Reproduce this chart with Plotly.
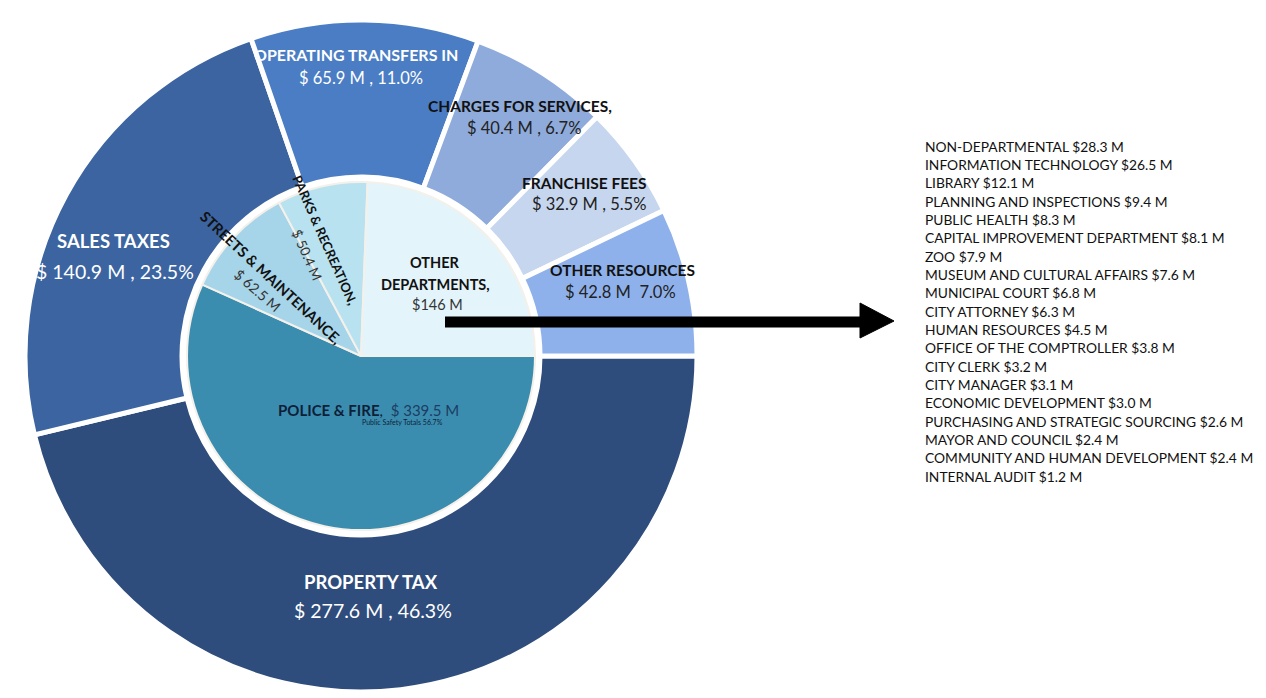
import plotly.graph_objects as go

W, H = 1266, 698

# ---- data ----
rev_labels = ["PROPERTY TAX", "SALES TAXES", "OPERATING TRANSFERS IN",
              "CHARGES FOR SERVICES,", "FRANCHISE FEES", "OTHER RESOURCES"]
rev_values = [277.6, 140.9, 65.9, 40.4, 32.9, 42.8]
rev_text = ["$ 277.6 M , 46.3%", "$ 140.9 M , 23.5%", "$ 65.9 M , 11.0%",
            "$ 40.4 M , 6.7%", "$ 32.9 M , 5.5%", "$ 42.8 M  7.0%"]
rev_colors = ["#2F4D7C", "#3B64A0", "#4A7DC3", "#8FABDB", "#C6D6EE", "#8EB1EB"]

exp_labels = ["POLICE & FIRE", "STREETS & MAINTENANCE", "PARKS & RECREATION",
              "OTHER DEPARTMENTS"]
exp_values = [339.5, 62.5, 50.4, 146.0]
exp_colors = ["#3B8DB0", "#A6D4E9", "#B9E2F0", "#E4F4FB"]

other_depts = ["NON-DEPARTMENTAL", "INFORMATION TECHNOLOGY", "LIBRARY",
               "PLANNING AND INSPECTIONS", "PUBLIC HEALTH",
               "CAPITAL IMPROVEMENT DEPARTMENT", "ZOO",
               "MUSEUM AND CULTURAL AFFAIRS", "MUNICIPAL COURT", "CITY ATTORNEY",
               "HUMAN RESOURCES", "OFFICE OF THE COMPTROLLER", "CITY CLERK",
               "CITY MANAGER", "ECONOMIC DEVELOPMENT",
               "PURCHASING AND STRATEGIC SOURCING", "MAYOR AND COUNCIL",
               "COMMUNITY AND HUMAN DEVELOPMENT", "INTERNAL AUDIT"]
other_values = ["$28.3 M", "$26.5 M", "$12.1 M", "$9.4 M", "$8.3 M", "$8.1 M",
                "$7.9 M", "$7.6 M", "$6.8 M", "$6.3 M", "$4.5 M", "$3.8 M",
                "$3.2 M", "$3.1 M", "$3.0 M", "$2.6 M", "$2.4 M", "$2.4 M",
                "$1.2 M"]

FONT = "Lato"

def px(x):
    return x / W

def py(y):
    return 1 - y / H

cx, cy = 361, 356
R_out, R_in = 336, 174

fig = go.Figure()
fig.add_trace(go.Pie(
    labels=rev_labels, values=rev_values, sort=False, direction="clockwise",
    rotation=90, hole=179 / R_out, textinfo="none", hoverinfo="label+value",
    marker=dict(colors=rev_colors, line=dict(color="white", width=5)),
    domain=dict(x=[px(cx - R_out), px(cx + R_out)], y=[py(cy + R_out), py(cy - R_out)]),
    showlegend=False,
))
fig.add_trace(go.Pie(
    labels=exp_labels, values=exp_values, sort=False, direction="clockwise",
    rotation=90, textinfo="none", hoverinfo="label+value",
    marker=dict(colors=exp_colors, line=dict(color="#F4F0EA", width=2)),
    domain=dict(x=[px(cx - R_in), px(cx + R_in)], y=[py(cy + R_in), py(cy - R_in)]),
    showlegend=False,
))

ann = []
def T(x, y, text, size, color, bold=False, angle=0, xanchor="center", family=FONT):
    t = f"<b>{text}</b>" if bold else text
    ann.append(dict(x=px(x), y=py(y), xref="paper", yref="paper", text=t,
                    showarrow=False, textangle=angle, xanchor=xanchor,
                    yanchor="middle",
                    font=dict(family=family, size=size, color=color)))

# outer labels
T(356, 55, rev_labels[2], 16, "white", True)
T(361, 78, rev_text[2], 16.5, "white")
T(520, 106, rev_labels[3], 15.5, "#111111", True)
T(524, 128, rev_text[3], 16.5, "#222222")
T(584, 183, rev_labels[4], 15.5, "#111111", True)
T(589, 204, rev_text[4], 16.5, "#222222")
T(622, 270, rev_labels[5], 15.5, "#111111", True)
T(620, 292, rev_text[5], 16.5, "#222222")
T(113, 241, rev_labels[1], 18.5, "white", True)
T(115, 271, rev_text[1], 19.5, "white")
T(371, 582, rev_labels[0], 18.5, "white", True)
T(373, 610, rev_text[0], 19.5, "white")

# inner labels
T(435, 262, "OTHER", 14.5, "#111111", True)
T(435, 284, "DEPARTMENTS,", 14.5, "#111111", True)
T(437, 304, "$146 M", 14.5, "#333333")
T(368, 410, "<b>POLICE &amp; FIRE</b>,  <span style='color:#1B3D63'>$ 339.5 M</span>",
  15, "#0E1F38")
T(402, 422, "Public Safety Totals 56.7%", 7, "#0E1F38")
T(325, 240, "PARKS &amp; RECREATION,", 13, "#111111", True, 66)
T(307, 255, "$ 50.4 M", 13.5, "#333333", False, 66)
T(271, 277, "STREETS &amp; MAINTENANCE,", 14.5, "#111111", True, 43)
T(258, 290, "$ 62.5 M", 14, "#333333", False, 41)

# department list
for i, (n, v) in enumerate(zip(other_depts, other_values)):
    T(923, 146 + i * 18.35, f"{n} {v}", 13.8, "#111111", False, 0, "left")

shapes = [
    dict(type="line", xref="paper", yref="paper", x0=px(445), y0=py(322),
         x1=px(864), y1=py(322), line=dict(color="black", width=11)),
    dict(type="path", xref="paper", yref="paper", fillcolor="black",
         line=dict(color="black", width=1),
         path=f"M {px(860)} {py(303)} L {px(894)} {py(321)} L {px(860)} {py(338)} Z"),
]

fig.update_layout(width=W, height=H, margin=dict(l=0, r=0, t=0, b=0),
                  paper_bgcolor="white", plot_bgcolor="white",
                  annotations=ann, shapes=shapes)
fig.write_html("out.html", config={"displayModeBar": False},
               post_script="document.body.style.margin='0';")
